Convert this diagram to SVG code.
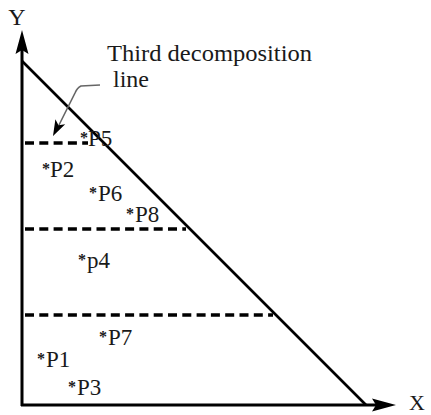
<svg xmlns="http://www.w3.org/2000/svg" width="431" height="415" viewBox="0 0 431 415">
<style>
  text { font-family: "Liberation Serif", "Times New Roman", serif; fill: #1a1a1a; }
  .pt { font-size: 23px; }
  .st { font-size: 16px; font-weight: bold; }
  .ax { stroke: #000; stroke-width: 3; fill: none; }
  .dash { stroke: #000; stroke-width: 3.5; stroke-dasharray: 9 5.3; fill: none; }
</style>
<rect width="431" height="415" fill="#fff"/>
<g id="axes">
  <line class="ax" x1="22" y1="406" x2="22" y2="45"/>
  <polygon points="22,30 28.5,54 22,50 15.5,54" fill="#000"/>
  <line class="ax" x1="21" y1="405" x2="382" y2="405"/>
  <polygon points="396,405 372,398.5 376,405 372,411.5" fill="#000"/>
  <text x="17" y="25" font-size="24" text-anchor="middle">Y</text>
  <text x="417" y="410" font-size="22" text-anchor="middle">X</text>
</g>
<g id="boundary">
  <line x1="22" y1="61" x2="366" y2="405" stroke="#000" stroke-width="2.6"/>
</g>
<g id="decomposition-lines">
  <line class="dash" x1="25" y1="143" x2="88" y2="143"/>
  <line class="dash" x1="25" y1="229" x2="186" y2="229"/>
  <line class="dash" x1="25" y1="315" x2="273" y2="315"/>
</g>
<g id="annotation">
  <text x="107" y="61" font-size="23" textLength="205" lengthAdjust="spacingAndGlyphs">Third decomposition</text>
  <text x="113" y="87" font-size="23" textLength="36" lengthAdjust="spacingAndGlyphs">line</text>
  <path d="M100,85 L81,86 Q77,88 75,93 L59,125" stroke="#666" stroke-width="1.6" fill="none"/>
  <polygon points="53,136 65.2,124.3 58.5,125.3 55.4,119.3" fill="#000"/>
</g>
<g id="points">
  <text class="pt" x="80" y="146"><tspan class="st" dy="-3">*</tspan><tspan x="88" dy="3">P5</tspan></text>
  <text class="pt" x="42" y="177"><tspan class="st" dy="-3">*</tspan><tspan x="50" dy="3">P2</tspan></text>
  <text class="pt" x="89" y="201"><tspan class="st" dy="-3">*</tspan><tspan x="98" dy="3">P6</tspan></text>
  <text class="pt" x="126" y="222"><tspan class="st" dy="-3">*</tspan><tspan x="135" dy="3">P8</tspan></text>
  <text class="pt" x="78" y="268"><tspan class="st" dy="-3">*</tspan><tspan x="87" dy="3">p4</tspan></text>
  <text class="pt" x="99" y="345"><tspan class="st" dy="-3">*</tspan><tspan x="108" dy="3">P7</tspan></text>
  <text class="pt" x="37" y="367"><tspan class="st" dy="-3">*</tspan><tspan x="46" dy="3">P1</tspan></text>
  <text class="pt" x="68" y="395"><tspan class="st" dy="-3">*</tspan><tspan x="77" dy="3">P3</tspan></text>
</g>
</svg>
